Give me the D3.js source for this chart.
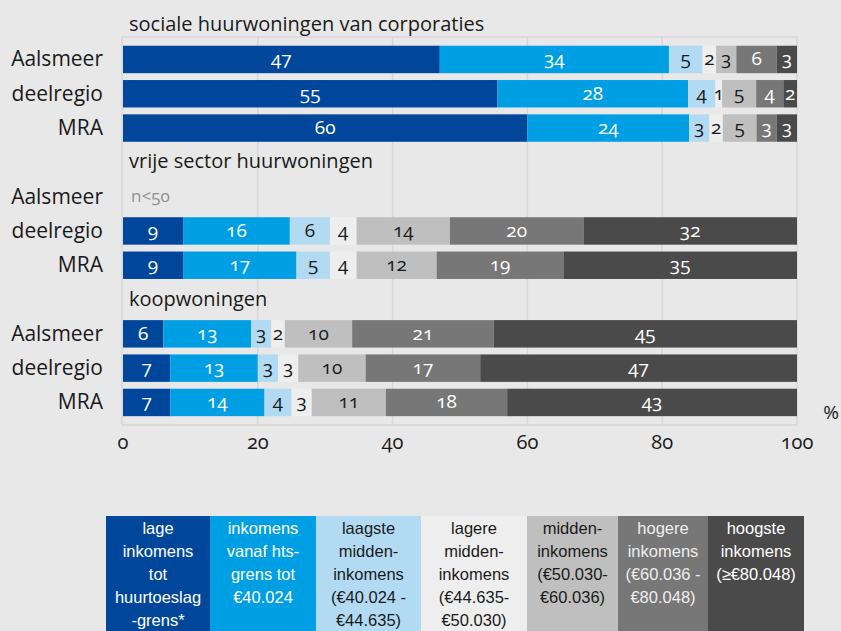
<!DOCTYPE html>
<html>
<head>
<meta charset="utf-8">
<script src="https://cdn.jsdelivr.net/npm/d3@7"></script>
<style>
	body { margin: 0; background: #e8e8e8; }
	svg { display: block; font-family: "Open Sans", "Noto Sans", sans-serif; }
	.num { font-variant-numeric: oldstyle-nums; font-feature-settings: "onum"; }
	.leg { font-family: "Liberation Sans", Arial, sans-serif; }
</style>
</head>
<body>
<svg width="841" height="631"></svg>
<script>
// Inkomensverdeling per woningsegment, Aalsmeer / deelregio / MRA

var categories = ["lage", "hts", "laagste", "lagere", "midden", "hogere", "hoogste"];
var colors = ["#00479b", "#009fe3", "#b3daf3", "#eeeeee", "#bfbfbf", "#777777", "#4a4a4a"];
var labelColors = ["#fff", "#fff", "#1a1a1a", "#1a1a1a", "#1a1a1a", "#fff", "#fff"];

var areas = ["Aalsmeer", "deelregio", "MRA"];
var segments = ["sociale huurwoningen van corporaties", "vrije sector huurwoningen", "koopwoningen"];

var sociale = [
	[47, 34, 5, 2, 3, 6, 3],
	[55, 28, 4, 1, 5, 4, 2],
	[60, 24, 3, 2, 5, 3, 3]
];
var vrijeSector = [
	null, // Aalsmeer: n<50
	[9, 16, 6, 4, 14, 20, 32],
	[9, 17, 5, 4, 12, 19, 35]
];
var koop = [
	[6, 13, 3, 2, 10, 21, 45],
	[7, 13, 3, 3, 10, 17, 47],
	[7, 14, 4, 3, 11, 18, 43]
];

var xTicks = [0, 20, 40, 60, 80, 100];

var legendLabels = [
	["lage", "inkomens", "tot", "huurtoeslag", "-grens*"],
	["inkomens", "vanaf hts-", "grens tot", "€40.024"],
	["laagste", "midden-", "inkomens", "(€40.024 -", "€44.635)"],
	["lagere", "midden-", "inkomens", "(€44.635-", "€50.030)"],
	["midden-", "inkomens", "(€50.030-", "€60.036)"],
	["hogere", "inkomens", "(€60.036 -", "€80.048)"],
	["hoogste", "inkomens", "(≥€80.048)"]
];
var legendWidths = [104, 106, 105, 106, 91, 90, 96];

var svg = d3.select("svg");

// rows: one title row + three area rows per segment
var rows = [];
var seriesData = [sociale, vrijeSector, koop];
segments.forEach(function(seg, s){
	rows.push({key: "t" + s, title: seg});
	areas.forEach(function(a, i){
		rows.push({key: s + "-" + a, area: a, values: seriesData[s][i]});
	});
});

var x = d3.scaleLinear().domain([0, 100]).range([123, 797]);
var y = d3.scaleBand().domain(rows.map(r => r.key)).range([8, 419.6]).paddingInner(0.2).paddingOuter(0.1);

// frame + gridlines
var plotTop = 37, plotBottom = 425;
svg.append("rect")
	.attr("x", x(0) - 1).attr("y", plotTop)
	.attr("width", x(100) - x(0) + 1).attr("height", plotBottom - plotTop)
	.attr("fill", "none").attr("stroke", "#d6d6d6").attr("stroke-width", 1.5);

svg.append("g").selectAll("line")
	.data(xTicks.slice(1, -1))
	.enter().append("line")
	.attr("x1", d => x(d)).attr("x2", d => x(d))
	.attr("y1", plotTop).attr("y2", plotBottom)
	.attr("stroke", "#d6d6d6").attr("stroke-width", 1.5);

// bars (rounded percentages, stacked to the full width)
var barRows = rows.filter(r => r.values);
var bar = svg.append("g").selectAll("g")
	.data(barRows)
	.enter().append("g");

bar.each(function(r){
	var total = d3.sum(r.values);
	var cum = 0;
	var segs = r.values.map(function(v, i){
		var s = {i: i, v: v, x0: cum / total * 100, x1: (cum + v) / total * 100};
		cum += v;
		return s;
	});
	var g = d3.select(this);
	g.selectAll("rect")
		.data(segs)
		.enter().append("rect")
		.attr("x", d => x(d.x0))
		.attr("width", d => x(d.x1) - x(d.x0))
		.attr("y", y(r.key))
		.attr("height", y.bandwidth())
		.attr("fill", d => colors[d.i]);
	g.selectAll("text")
		.data(segs)
		.enter().append("text")
		.attr("class", "num")
		.attr("x", d => (x(d.x0) + x(d.x1)) / 2)
		.attr("y", y(r.key) + y.bandwidth() / 2 + 6)
		.attr("text-anchor", "middle")
		.attr("font-size", 19)
		.attr("fill", d => labelColors[d.i])
		.text(d => d.v);
});

// row labels
svg.append("g").selectAll("text")
	.data(rows.filter(r => r.area))
	.enter().append("text")
	.attr("x", 103)
	.attr("y", r => y(r.key) + y.bandwidth() / 2 + 7)
	.attr("text-anchor", "end")
	.attr("font-size", 21)
	.attr("fill", "#1a1a1a")
	.text(r => r.area);

// segment titles
svg.append("g").selectAll("text")
	.data(rows.filter(r => r.title))
	.enter().append("text")
	.attr("x", 129)
	.attr("y", r => y(r.key) + y.bandwidth() / 2 + 6)
	.attr("font-size", 20)
	.attr("fill", "#1a1a1a")
	.text(r => r.title);

// n<50 note
svg.append("text")
	.attr("class", "num")
	.attr("x", 131)
	.attr("y", y("1-Aalsmeer") + y.bandwidth() / 2 + 5)
	.attr("font-size", 17)
	.attr("fill", "#909090")
	.text("n<50");

// x axis labels
svg.append("g").selectAll("text")
	.data(xTicks)
	.enter().append("text")
	.attr("class", "num")
	.attr("x", d => x(d))
	.attr("y", 449)
	.attr("text-anchor", "middle")
	.attr("font-size", 20)
	.attr("fill", "#1a1a1a")
	.text(d => d);

svg.append("text")
	.attr("x", 831).attr("y", 419)
	.attr("text-anchor", "middle")
	.attr("font-size", 19)
	.attr("fill", "#1a1a1a")
	.text("%");

// legend
var legX = 106, legTop = 516;
var offsets = [];
legendWidths.reduce(function(acc, w){ offsets.push(acc); return acc + w; }, legX);

var leg = svg.append("g").attr("class", "leg").selectAll("g")
	.data(categories)
	.enter().append("g")
	.attr("transform", (d, i) => "translate(" + offsets[i] + "," + legTop + ")");

leg.append("rect")
	.attr("width", (d, i) => legendWidths[i])
	.attr("height", 631 - legTop)
	.attr("fill", (d, i) => colors[i]);

leg.each(function(d, i){
	d3.select(this).selectAll("text")
		.data(legendLabels[i])
		.enter().append("text")
		.attr("x", legendWidths[i] / 2)
		.attr("y", (t, j) => 18 + j * 23)
		.attr("text-anchor", "middle")
		.attr("font-size", 16.5)
		.attr("fill", i == 5 ? "#eeeeee" : labelColors[i])
		.text(t => t);
});
</script>
</body>
</html>
